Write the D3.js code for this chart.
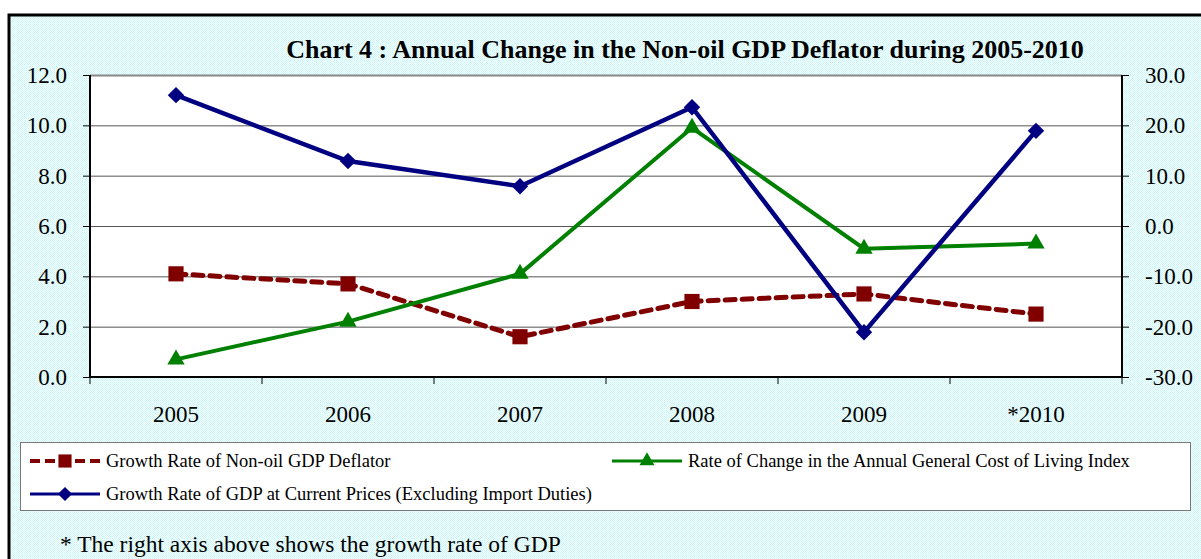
<!DOCTYPE html>
<html>
<head>
<meta charset="utf-8">
<script src="https://cdn.jsdelivr.net/npm/d3@7"></script>
<style>
  body { margin: 0; background: #fff; }
  svg { display: block; font-family: "Liberation Serif", "Times New Roman", serif; }
</style>
</head>
<body>
<svg id="chart" width="1201" height="559"></svg>
<script>
// data
const years = ["2005", "2006", "2007", "2008", "2009", "*2010"]
const deflator = [4.1, 3.7, 1.6, 3.0, 3.3, 2.5]          // left axis
const costOfLiving = [0.7, 2.2, 4.1, 9.9, 5.1, 5.3]      // left axis
const gdpGrowth = [26.0, 12.9, 7.9, 23.6, -21.1, 18.9]   // right axis
const leftTicks = [0, 2, 4, 6, 8, 10, 12]
const rightTicks = [-30, -20, -10, 0, 10, 20, 30]

const svg = d3.select("#chart")
const margin = {top: 75, right: 79, bottom: 182, left: 90}
const W = 1201, H = 559
const innerW = W - margin.left - margin.right
const innerH = H - margin.top - margin.bottom

// dotted cyan background
const defs = svg.append("defs")
const pat = defs.append("pattern").attr("id", "dots")
  .attr("width", 2).attr("height", 2).attr("patternUnits", "userSpaceOnUse")
pat.append("rect").attr("width", 2).attr("height", 2).attr("fill", "#f0ffff")
pat.append("rect").attr("width", 1).attr("height", 1).attr("fill", "#cdf5f5")
pat.append("rect").attr("x", 1).attr("y", 1).attr("width", 1).attr("height", 1).attr("fill", "#d8f8f8")

svg.append("rect").attr("x", 9).attr("y", 15).attr("width", W).attr("height", H)
  .attr("fill", "url(#dots)").attr("stroke", "#000").attr("stroke-width", 3)

// title
svg.append("text").attr("x", 685).attr("y", 58).attr("text-anchor", "middle")
  .attr("font-size", 26).attr("font-weight", "bold")
  .text("Chart 4 : Annual Change in the Non-oil GDP Deflator during 2005-2010")

const x = d3.scaleBand().domain(years).range([0, innerW])
const yL = d3.scaleLinear().domain([0, 12]).range([innerH, 0])
const yR = d3.scaleLinear().domain([-30, 30]).range([innerH, 0])
const fmt = d => d.toFixed(1)

const g = svg.append("g").attr("transform", `translate(${margin.left},${margin.top})`)

g.append("rect").attr("width", innerW).attr("height", innerH).attr("fill", "#fff")

// gridlines
g.append("g").selectAll("line").data(leftTicks.filter(t => t > 0 && t < 12))
  .enter().append("line")
  .attr("x1", 0).attr("x2", innerW)
  .attr("y1", d => yL(d) + 0.5).attr("y2", d => yL(d) + 0.5)
  .attr("stroke", "#555").attr("stroke-width", 1)
g.append("line").attr("x1", 0).attr("x2", innerW).attr("y1", 0.5).attr("y2", 0.5)
  .attr("stroke", "#888").attr("stroke-width", 2)

// axes
const leftAxis = g.append("g")
  .call(d3.axisLeft(yL).tickValues(leftTicks).tickSize(7).tickPadding(16).tickFormat(fmt))
const rightAxis = g.append("g").attr("transform", `translate(${innerW},0)`)
  .call(d3.axisRight(yR).tickValues(rightTicks).tickSize(7).tickPadding(16).tickFormat(fmt))
const bottomAxis = g.append("g").attr("transform", `translate(0,${innerH})`)
  .call(d3.axisBottom(x).tickSize(0).tickPadding(29))
// tick marks at band edges
bottomAxis.selectAll(".edge").data(d3.range(years.length + 1)).enter().append("line")
  .attr("x1", i => i * x.step()).attr("x2", i => i * x.step())
  .attr("y1", 0).attr("y2", 7).attr("stroke", "#000")

;[leftAxis, rightAxis, bottomAxis].forEach(a => {
  a.selectAll("text").attr("font-size", 23).attr("fill", "#000")
    .attr("font-family", "Liberation Serif, serif")
  a.select(".domain").attr("stroke", "#000").attr("stroke-width", 2)
})
leftAxis.select(".domain").attr("d", `M0,0V${innerH}`)
rightAxis.select(".domain").attr("d", `M0,0V${innerH}`)
bottomAxis.select(".domain").attr("d", `M0,0H${innerW}`)

const cx = d => x(d) + x.bandwidth() / 2

// series
const series = [
  {name: "Growth Rate of Non-oil GDP Deflator", vals: deflator, y: yL, color: "#800000", dash: "10,7", width: 5, shape: d3.symbolSquare, size: 230, rot: 0},
  {name: "Rate of Change in the Annual General Cost of Living Index", vals: costOfLiving, y: yL, color: "#008000", dash: null, width: 4, shape: d3.symbolTriangle, size: 130, rot: 0},
  {name: "Growth Rate of GDP at Current Prices (Excluding Import Duties)", vals: gdpGrowth, y: yR, color: "#000080", dash: null, width: 4.5, shape: d3.symbolSquare, size: 135, rot: 45}
]

series.forEach(s => {
  const pts = years.map((yr, i) => [cx(yr), s.y(s.vals[i])])
  g.append("path").attr("d", d3.line()(pts))
    .attr("fill", "none").attr("stroke", s.color).attr("stroke-width", s.width)
    .attr("stroke-dasharray", s.dash).attr("stroke-linecap", s.dash ? "round" : "butt")
  g.append("g").selectAll("path").data(pts).enter().append("path")
    .attr("d", d3.symbol().type(s.shape).size(s.size))
    .attr("transform", p => `translate(${p[0]},${p[1]}) rotate(${s.rot})`)
    .attr("fill", s.color)
})

// legend
svg.append("rect").attr("x", 20.5).attr("y", 442.5).attr("width", 1170).attr("height", 68)
  .attr("fill", "#fff").attr("stroke", "#777")
const legendPos = [[30, 461], [612, 461], [30, 494]]
series.forEach((s, i) => {
  const [lx, ly] = legendPos[i]
  const lg = svg.append("g").attr("transform", `translate(${lx},${ly})`)
  lg.append("line").attr("x1", 0).attr("x2", 70).attr("y1", 0).attr("y2", 0)
    .attr("stroke", s.color).attr("stroke-width", s.dash ? 4 : 3)
    .attr("stroke-dasharray", s.dash ? "10,5" : null)
  lg.append("path").attr("d", d3.symbol().type(s.shape).size(s.size * 0.75))
    .attr("transform", `translate(35,0) rotate(${s.rot})`).attr("fill", s.color)
  lg.append("text").attr("x", 76).attr("y", 6).attr("font-size", 18.5).text(s.name)
})

svg.append("text").attr("x", 60).attr("y", 552).attr("font-size", 23.5)
  .text("* The right axis above shows the growth rate of GDP")
</script>
</body>
</html>
